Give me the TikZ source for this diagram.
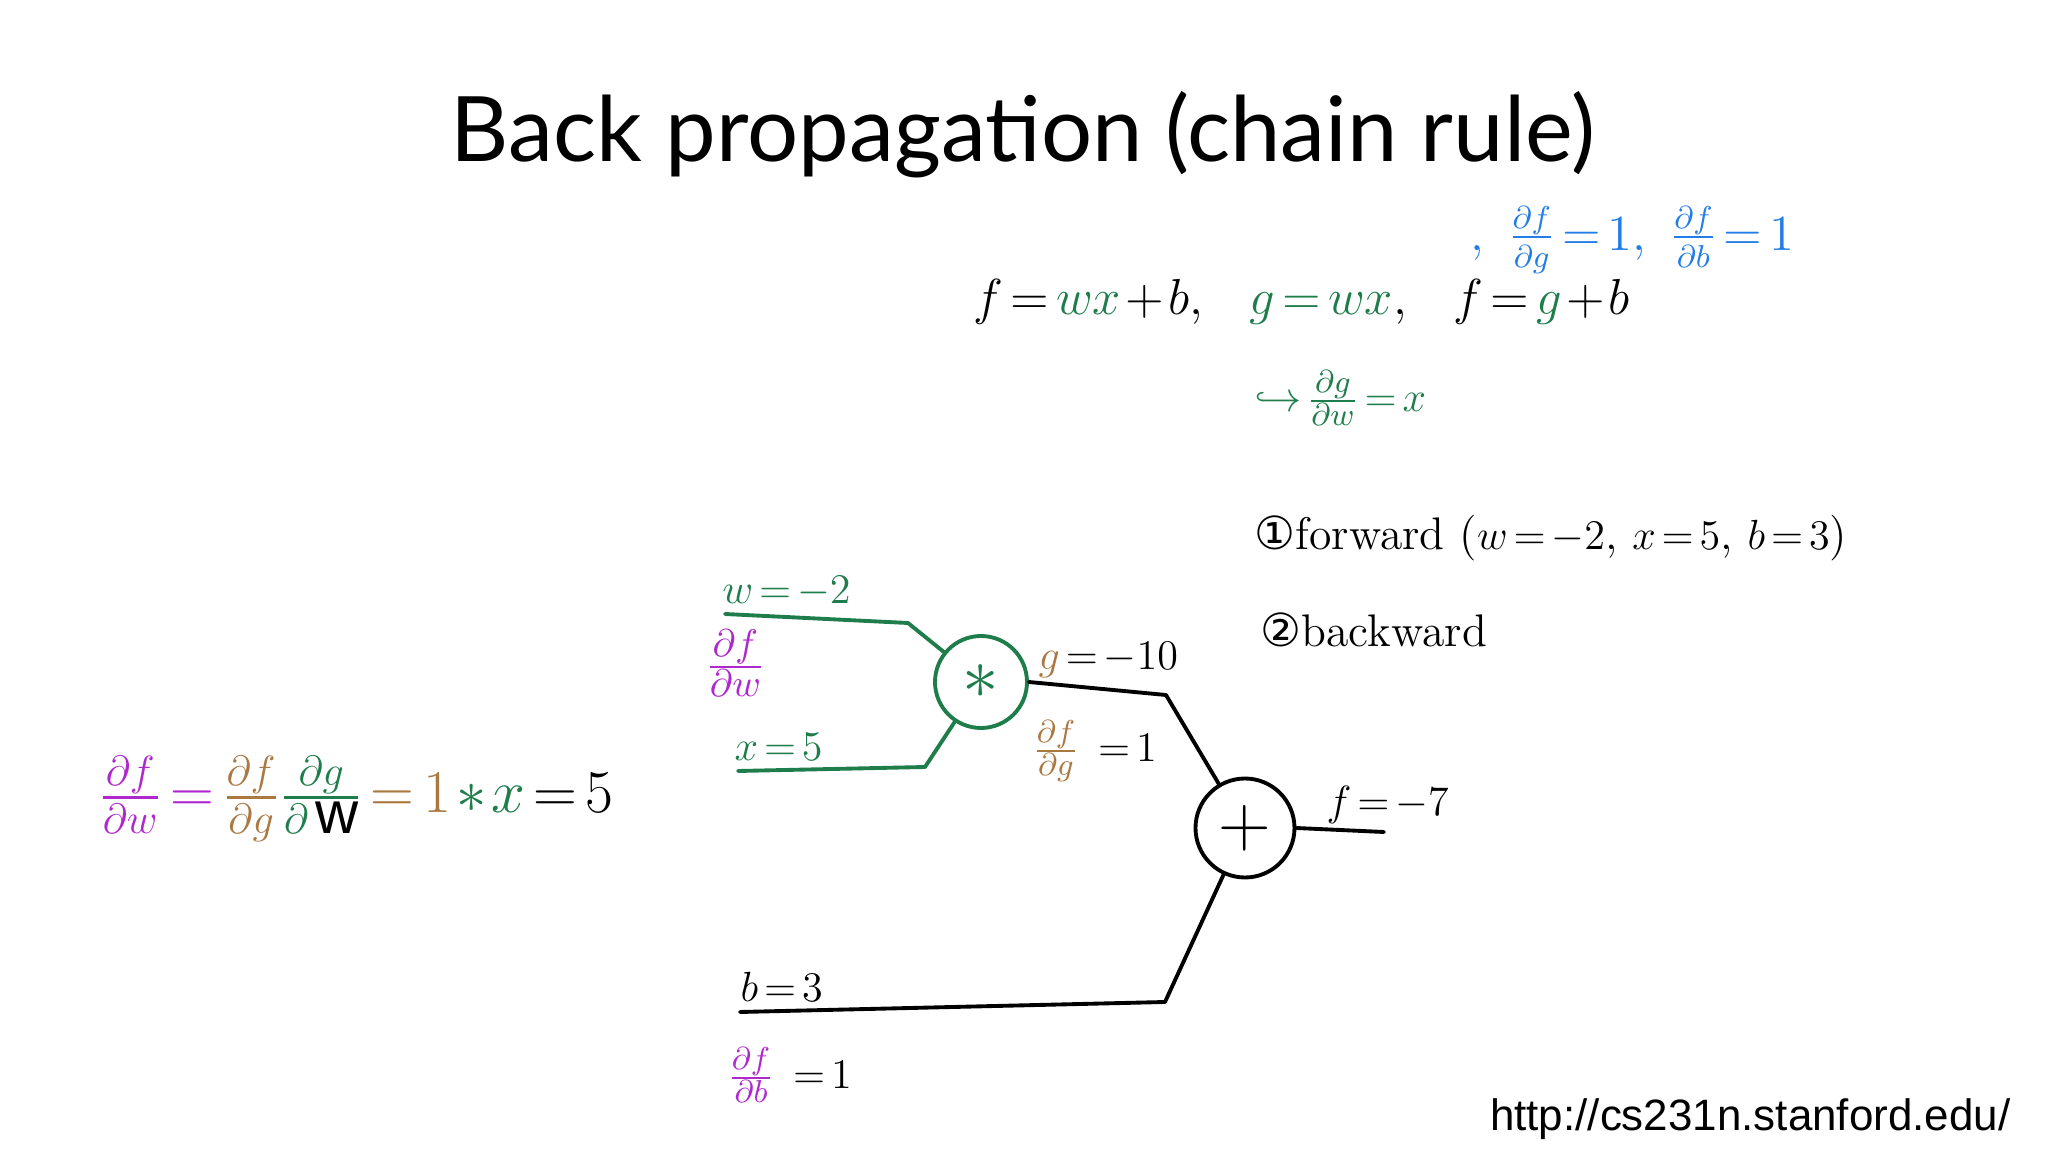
\documentclass[tikz,border=0pt]{standalone}
\usepackage{fontspec}
\usepackage{amsmath}
\newfontfamily\titlefont{Lato}
\newfontfamily\urlfont{Liberation Sans}
\newfontfamily\symfont{DejaVu Sans}
\definecolor{wiregreen}{RGB}{30,125,75}
\definecolor{gradpurple}{RGB}{175,40,205}
\definecolor{gradbrown}{RGB}{170,120,65}
\definecolor{noteblue}{RGB}{35,125,230}
\thickmuskip=2.5mu
\medmuskip=1.5mu
\begin{document}
\begin{tikzpicture}[
        font=\fontsize{13}{16}\selectfont,
        wire/.style={line width=1.1pt, line cap=round, line join=round},
        operation/.style={draw, circle, line width=1.1pt, minimum size=9.2mm, inner sep=0pt, font=\fontsize{22}{22}\selectfont},
        note/.style={anchor=west, inner sep=0pt}
    ]
        \useasboundingbox (0,0) rectangle (20.48,-11.52);

        \node[font=\titlefont\fontsize{25.7}{30}\selectfont] (title) at (10.23,-1.35)
            {Back propagation (chain rule)};
        \node[font=\urlfont\fontsize{12.5}{15}\selectfont, anchor=east, inner sep=0pt] (url) at (20.11,-11.19)
            {http://cs231n.stanford.edu/};

        \node[note, font=\fontsize{14.4}{18}\selectfont] (function) at (9.73,-3.02)
            {$f = {\color{wiregreen}wx} + b,\hspace{11pt}{\color{wiregreen}g = wx},\hspace{11pt}f = {\color{wiregreen}g} + b$};
        \node[note, text=noteblue, font=\fontsize{13.5}{16}\selectfont] (localgrad) at (14.70,-2.40)
            {$,\ \frac{\partial f}{\partial g} = 1,\ \frac{\partial f}{\partial b} = 1$};
        \node[note, text=wiregreen] (wxgrad) at (12.54,-3.98)
            {$\hookrightarrow \frac{\partial g}{\partial w} = x$};
        \node[note] (forward) at (12.54,-5.38)
            {{\symfont ①}forward ($w = -2$, $x = 5$, $b = 3$)};
        \node[note] (backward) at (12.60,-6.30)
            {{\symfont ②}backward};

        \node[operation, draw=wiregreen, text=wiregreen] (mult) at (9.81,-6.82) {$\ast$};
        \node[operation, minimum size=9.9mm] (plus) at (12.45,-8.28) {$+$};

        \coordinate (win) at (7.25,-6.14);
        \coordinate (wbend) at (9.08,-6.23);
        \coordinate (xin) at (7.38,-7.71);
        \coordinate (xbend) at (9.25,-7.67);
        \coordinate (gbend) at (11.66,-6.95);
        \coordinate (bin) at (7.40,-10.12);
        \coordinate (bbend) at (11.65,-10.02);
        \coordinate (fout) at (13.84,-8.32);

        \draw[wire, wiregreen] (win) -- (wbend) -- (mult);
        \draw[wire, wiregreen] (xin) -- (xbend) -- (mult);
        \draw[wire] (mult.east) -- (gbend) -- (plus);
        \draw[wire] (bin) -- (bbend) -- (plus);
        \draw[wire] (plus.east) -- (fout);

        \node[note, text=wiregreen] (wval) at (7.22,-5.92) {$w = -2$};
        \node[note, text=gradpurple, font=\fontsize{15}{18}\selectfont] (wgrad) at (7.05,-6.63)
            {$\frac{\partial f}{\partial w}$};
        \node[note, text=wiregreen] (xval) at (7.34,-7.47) {$x = 5$};
        \node[note] (gval) at (10.38,-6.60) {${\color{gradbrown}g} = -10$};
        \node[note] (ggrad) at (10.32,-7.51)
            {${\color{gradbrown}\frac{\partial f}{\partial g}}\;\, = 1$};
        \node[note] (fval) at (13.26,-8.05) {$f = -7$};
        \node[note] (bval) at (7.40,-9.87) {$b = 3$};
        \node[note] (bgrad) at (7.27,-10.75)
            {${\color{gradpurple}\frac{\partial f}{\partial b}}\;\, = 1$};

        \node[note, font=\fontsize{17}{20}\selectfont] (chain) at (0.98,-7.99)
            {$\color{gradpurple}\frac{\partial f}{\partial w} =
             \color{gradbrown}\frac{\partial f}{\partial g}
             \color{wiregreen}\frac{\partial g}{\partial\,\mbox{\color{black}\urlfont w}}
             \color{gradbrown} = 1 \color{wiregreen}\ast x \color{black} = 5$};
    \end{tikzpicture}
\end{document}
